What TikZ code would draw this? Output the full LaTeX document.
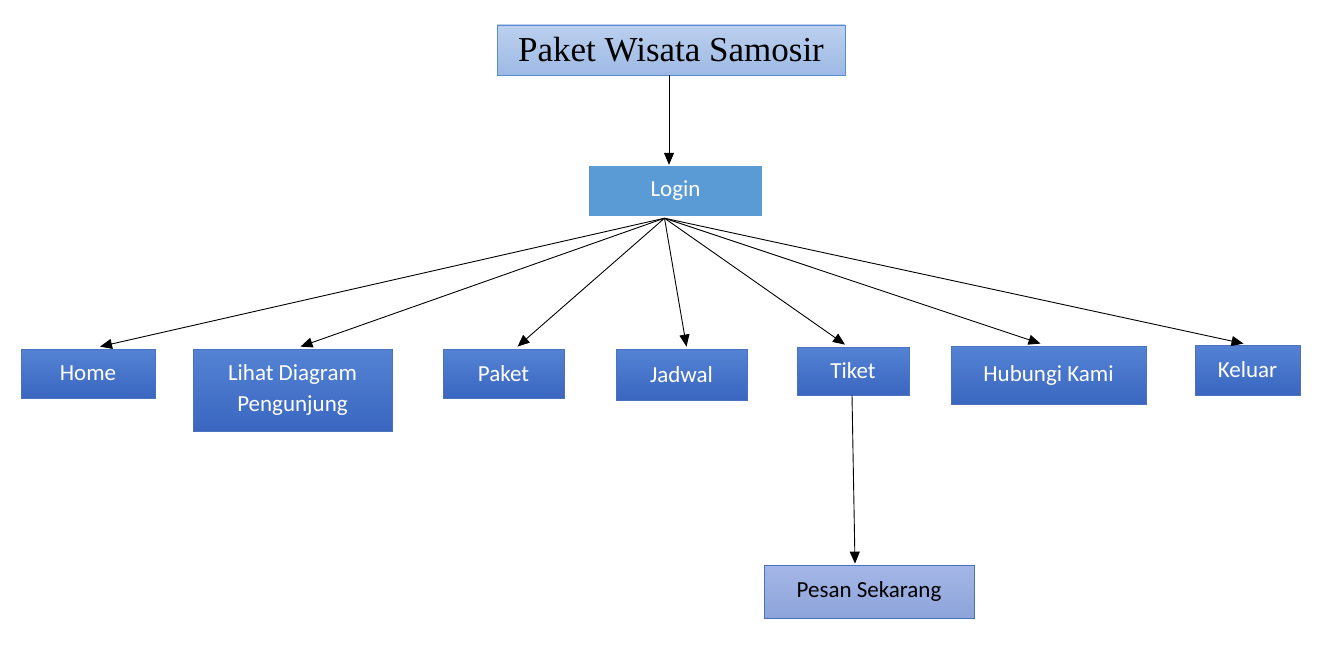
\documentclass[tikz,border=0pt]{standalone}
\usepackage{fontspec}
\setmainfont{Carlito}
\newfontfamily\titlefont{Liberation Serif}
\usetikzlibrary{arrows.meta,calc}
\definecolor{btop}{HTML}{5483D4}
\definecolor{bbot}{HTML}{3A66C0}
\definecolor{bbord}{HTML}{4A72BE}
\definecolor{ttop}{HTML}{BCD0EE}
\definecolor{tbot}{HTML}{9DB9E4}
\definecolor{tbord}{HTML}{5B8BD0}
\definecolor{ptop}{HTML}{A4B6E6}
\definecolor{pbot}{HTML}{8DA4DA}
\definecolor{loginfill}{HTML}{5B9BD5}
\tikzset{
  menubox/.style={draw=bbord, line width=0.8pt, top color=btop, bottom color=bbot, text=white, font=\fontsize{23}{31}\selectfont, align=center, inner sep=0pt},
  titlebox/.style={draw=tbord, line width=0.8pt, top color=ttop, bottom color=tbot, text=black, font=\titlefont\fontsize{35}{40}\selectfont, inner sep=0pt},
  loginbox/.style={fill=loginfill, text=white, font=\fontsize{23}{27}\selectfont, inner sep=0pt},
  subbox/.style={draw=bbord, line width=0.8pt, top color=ptop, bottom color=pbot, text=black, font=\fontsize{23}{27}\selectfont, inner sep=0pt},
  conn/.style={draw=black, line width=0.9pt, -{Triangle[length=12pt,width=10pt]}}
}
\begin{document}
\begin{tikzpicture}[x=1pt,y=-1pt]
\useasboundingbox (0,0) rectangle (1331,650);
\node[titlebox, minimum width=348pt, minimum height=50pt] (title) at (671,50) {Paket Wisata Samosir};
\node[loginbox, minimum width=173pt, minimum height=50pt] (login) at (675.5,191) {Login};
\node[menubox, minimum width=134pt, minimum height=49pt] (home) at (88,373.5) {Home};
\node[menubox, minimum width=199pt, minimum height=82pt] (lihat) at (292.5,390) {Lihat Diagram\\Pengunjung};
\node[menubox, minimum width=121pt, minimum height=49pt] (paket) at (503.5,373.5) {Paket};
\node[menubox, minimum width=131pt, minimum height=51pt] (jadwal) at (681.5,374.5) {Jadwal};
\node[menubox, minimum width=112pt, minimum height=48pt] (tiket) at (853,371) {Tiket};
\node[menubox, minimum width=195pt, minimum height=58pt] (hubungi) at (1048.5,375) {Hubungi Kami};
\node[menubox, minimum width=105pt, minimum height=50pt] (keluar) at (1247.5,370) {Keluar};
\node[subbox, minimum width=210pt, minimum height=53pt] (pesan) at (869,591.5) {Pesan Sekarang};
\coordinate (ls) at ($(login.south)+(-11,2)$);
\draw[conn] ($(title.south)+(-2,0)$) -- ($(login.north)+(-6.5,-1)$);
\draw[conn] (ls) -- ($(home.north)+(12,-2)$);
\draw[conn] (ls) -- ($(lihat.north)+(8,-2)$);
\draw[conn] (ls) -- ($(paket.north)+(14,-2)$);
\draw[conn] (ls) -- ($(jadwal.north)+(5,-2)$);
\draw[conn] (ls) -- ($(tiket.north)+(-8,-2)$);
\draw[conn] (ls) -- ($(hubungi.north)+(-8,-2)$);
\draw[conn] (ls) -- ($(keluar.north)+(-4,-1)$);
\draw[conn] ($(tiket.south)+(-1,0)$) -- ($(pesan.north)+(-14,-1)$);
\end{tikzpicture}
\end{document}
